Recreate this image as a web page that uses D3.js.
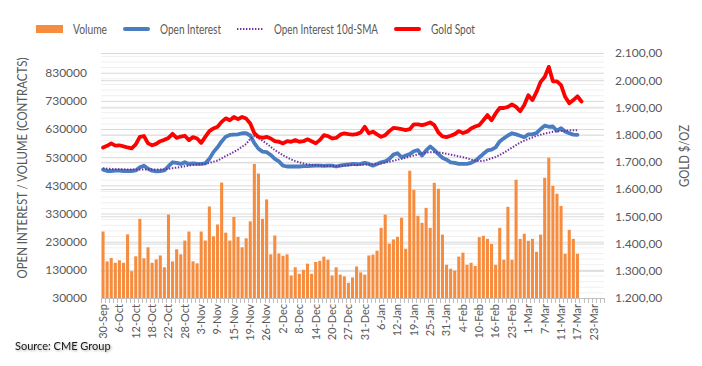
<!DOCTYPE html>
<html><head><meta charset="utf-8">
<script src="https://cdn.jsdelivr.net/npm/d3@7/dist/d3.min.js"></script>
<style>
html,body{margin:0;padding:0;background:#fff;}
svg{display:block;font-family:Lato,"Open Sans",sans-serif;}
</style></head>
<body><svg id="chart" width="702" height="366"></svg>
<script>
// ---- DATA ----
const categories = [
"30-Sep","1-Oct","4-Oct","5-Oct","6-Oct","7-Oct","8-Oct","11-Oct","12-Oct","13-Oct","14-Oct","15-Oct",
"18-Oct","19-Oct","20-Oct","21-Oct","22-Oct","25-Oct","26-Oct","27-Oct","28-Oct","29-Oct",
"1-Nov","2-Nov","3-Nov","4-Nov","5-Nov","8-Nov","9-Nov","10-Nov","11-Nov","12-Nov","15-Nov","16-Nov","17-Nov","18-Nov","19-Nov",
"22-Nov","23-Nov","24-Nov","26-Nov","29-Nov","30-Nov",
"1-Dec","2-Dec","3-Dec","6-Dec","7-Dec","8-Dec","9-Dec","10-Dec","13-Dec","14-Dec","15-Dec","16-Dec","17-Dec",
"20-Dec","21-Dec","22-Dec","23-Dec","27-Dec","28-Dec","29-Dec","30-Dec","31-Dec",
"3-Jan","4-Jan","5-Jan","6-Jan","7-Jan","10-Jan","11-Jan","12-Jan","13-Jan","14-Jan","18-Jan","19-Jan","20-Jan","21-Jan",
"24-Jan","25-Jan","26-Jan","27-Jan","28-Jan","31-Jan",
"1-Feb","2-Feb","3-Feb","4-Feb","7-Feb","8-Feb","9-Feb","10-Feb","11-Feb","14-Feb","15-Feb","16-Feb","17-Feb","18-Feb",
"22-Feb","23-Feb","24-Feb","25-Feb","28-Feb",
"1-Mar","2-Mar","3-Mar","4-Mar","7-Mar","8-Mar","9-Mar","10-Mar","11-Mar","14-Mar","15-Mar","16-Mar","17-Mar","18-Mar",
"21-Mar","22-Mar","23-Mar","24-Mar","25-Mar"
];
const tickLabels = ["30-Sep","6-Oct","12-Oct","18-Oct","22-Oct","28-Oct","3-Nov","9-Nov","15-Nov","19-Nov","26-Nov",
"2-Dec","8-Dec","14-Dec","20-Dec","27-Dec","31-Dec","6-Jan","12-Jan","19-Jan","25-Jan","31-Jan","4-Feb","10-Feb",
"16-Feb","23-Feb","1-Mar","7-Mar","11-Mar","17-Mar","23-Mar"];

const volume = [266000,160000,172000,155000,164000,155000,256000,125000,178000,311000,171000,210000,155000,167000,181000,139000,
326000,160000,203000,185000,234000,266000,160000,153000,266000,234000,355000,249000,291000,440000,262000,234000,318000,247000,
210000,242000,302000,506000,472000,311000,380000,185000,252000,188000,180000,185000,110000,139000,116000,130000,152000,116000,
158000,162000,177000,166000,110000,139000,113000,107000,84000,103000,142000,121000,113000,181000,184000,198000,279000,326000,
223000,238000,247000,315000,205000,482000,414000,322000,297000,350000,279000,439000,418000,255000,148000,134000,127000,177000,
191000,148000,155000,144000,246000,251000,240000,222000,148000,279000,166000,354000,166000,450000,240000,258000,233000,240000,
194000,255000,457000,528000,428000,400000,357000,187000,272000,240000,187000];

const openInterest = [486000,481000,481000,482000,482000,481000,481000,481000,483000,494000,500000,489000,482000,480000,481000,483000,
498000,512000,510000,506000,512000,506000,508000,506000,506000,508000,524000,548000,565000,586000,603000,609000,610000,611000,
615000,615000,607000,580000,560000,550000,548000,538000,524000,515000,500000,497000,497000,497000,497000,498000,498000,499000,
500000,500000,499000,500000,500000,497000,500000,503000,504000,506000,505000,506000,510000,506000,500000,506000,512000,515000,
524000,539000,544000,530000,536000,541000,551000,555000,536000,554000,568000,556000,541000,528000,521000,512000,510000,506000,
506000,506000,510000,517000,529000,542000,554000,557000,565000,586000,597000,607000,615000,611000,606000,601000,611000,611000,
616000,630000,642000,638000,639000,624000,633000,621000,615000,610000,609000];

const openInterestSMA = [491000,489000,488000,487000,487000,487000,486000,486000,486000,486000,486000,487000,487000,486000,486000,487000,
489000,491000,493000,495000,498000,500000,502000,504000,505000,507000,510000,514000,518000,526000,534000,541000,549000,557000,
567000,577000,595000,605000,598000,588000,578000,567000,555000,546000,537000,529000,522000,516000,512000,508000,505000,503000,
501000,500000,499000,499000,499000,499000,499000,500000,501000,502000,502000,503000,504000,504000,505000,506000,508000,511000,
514000,517000,521000,524000,528000,532000,536000,540000,543000,546000,548000,548000,547000,545000,542000,539000,536000,533000,
530000,526000,522000,518000,516000,517000,521000,526000,531000,538000,546000,555000,564000,573000,582000,589000,595000,600000,
606000,610000,614000,617000,620000,622000,623000,624000,625000,626000,626000];

const goldSpot = [1753,1759,1768,1760,1761,1757,1753,1750,1764,1792,1795,1768,1761,1766,1776,1781,1788,1803,1788,1793,1796,1780,
1791,1786,1770,1792,1813,1823,1829,1847,1860,1853,1865,1857,1865,1859,1841,1805,1792,1788,1792,1786,1776,1774,1768,1776,1774,
1780,1774,1776,1783,1776,1768,1780,1798,1795,1786,1788,1800,1805,1802,1800,1802,1808,1829,1805,1811,1801,1792,1798,1813,1825,
1823,1820,1817,1820,1838,1838,1835,1839,1845,1835,1808,1794,1791,1796,1802,1813,1806,1811,1823,1830,1835,1853,1872,1853,1878,
1898,1898,1902,1911,1902,1886,1909,1945,1927,1957,1994,2012,2049,1996,1996,1982,1939,1915,1927,1941,1922];

const leftTicks = [30000,130000,230000,330000,430000,530000,630000,730000,830000];
const rightTicks = [1200,1300,1400,1500,1600,1700,1800,1900,2000,2100];
const seriesNames = ["Volume","Open Interest","Open Interest 10d-SMA","Gold Spot"];
const colors = {volume:"#F68C3E", oi:"#4A7CC0", sma:"#7030A0", gold:"#FF0000"};

// ---- CHART ----
const svg = d3.select("#chart");
const L = 101, R = 604, T = 53, B = 298;
const x = d3.scaleBand().domain(categories).range([L, R]).paddingInner(0.25).paddingOuter(0.125);
const yL = d3.scaleLinear().domain([30000, 900000]).range([B, T]);
const yR = d3.scaleLinear().domain([1200, 2100]).range([B, T]);
const cx = i => x(categories[i]) + x.bandwidth() / 2;
const textCol = "#595959";

// minor gridlines (left axis, 20000 steps)
const minor = d3.range(30000, 900001, 20000).filter(v => !leftTicks.includes(v));
svg.append("g").selectAll("line").data(minor).join("line")
  .attr("x1", L).attr("x2", R).attr("y1", d => yL(d) + 0.5).attr("y2", d => yL(d) + 0.5)
  .attr("stroke", "#f0f0f0").attr("stroke-width", 1);
// major gridlines both axes
svg.append("g").call(d3.axisLeft(yR).tickValues(rightTicks).tickSize(-(R - L)).tickFormat(""))
  .attr("transform", `translate(${L},0)`)
  .call(g => g.select(".domain").remove())
  .call(g => g.selectAll("line").attr("stroke", "#d9d9d9"));
svg.append("g").call(d3.axisLeft(yL).tickValues(leftTicks).tickSize(-(R - L)).tickFormat(""))
  .attr("transform", `translate(${L},0)`)
  .call(g => g.select(".domain").remove())
  .call(g => g.selectAll("line").attr("stroke", "#d9d9d9"));

// bars
svg.append("g").selectAll("rect").data(volume).join("rect")
  .attr("x", (d, i) => x(categories[i])).attr("width", x.bandwidth())
  .attr("y", d => yL(d)).attr("height", d => B - yL(d))
  .attr("fill", colors.volume);

// x axis line + ticks
svg.append("line").attr("x1", L).attr("x2", R).attr("y1", B + 0.5).attr("y2", B + 0.5).attr("stroke", "#bfbfbf");
const bounds = categories.map(c => x(c) - (x.step() - x.bandwidth()) / 2).concat([R]);
svg.append("g").selectAll("line").data(bounds).join("line")
  .attr("x1", d => Math.round(d) + 0.5).attr("x2", d => Math.round(d) + 0.5)
  .attr("y1", B).attr("y2", B + 5).attr("stroke", "#bfbfbf");

// x labels
const xa = svg.append("g").attr("transform", `translate(0,${B + 4})`)
  .call(d3.axisBottom(x).tickValues(tickLabels).tickSize(0));
xa.select(".domain").remove();
xa.selectAll("text").attr("transform", "rotate(-90)").attr("text-anchor", "end")
  .attr("x", -2).attr("y", 0).attr("dy", "0.35em")
  .attr("fill", textCol).style("font-size", "11px").style("font-family", "Lato");

// left axis labels
const la = svg.append("g").attr("transform", `translate(${L - 11},0)`)
  .call(d3.axisLeft(yL).tickValues(leftTicks).tickSize(0).tickFormat(d3.format("d")));
la.select(".domain").remove();
la.selectAll("text").attr("fill", textCol).style("font-size", "12px").style("font-family", "Lato");

// right axis labels
const loc = d3.formatLocale({decimal: ",", thousands: ".", grouping: [3], currency: ["", ""]});
const ra = svg.append("g").attr("transform", `translate(${R + 11},0)`)
  .call(d3.axisRight(yR).tickValues(rightTicks).tickSize(0).tickFormat(loc.format(",.2f")));
ra.select(".domain").remove();
ra.selectAll("text").attr("fill", textCol).attr("x", 0).style("font-size", "12px").style("font-family", "Lato");

// lines
const lineL = d3.line().x((d, i) => cx(i)).y(d => yL(d));
const lineR = d3.line().x((d, i) => cx(i)).y(d => yR(d));
svg.append("path").datum(openInterest).attr("d", lineL).attr("fill", "none")
  .attr("stroke", colors.oi).attr("stroke-width", 3.8).attr("stroke-linejoin", "round").attr("stroke-linecap", "round");
svg.append("path").datum(openInterestSMA).attr("d", lineL).attr("fill", "none")
  .attr("stroke", colors.sma).attr("stroke-width", 2).attr("stroke-dasharray", "1.4,1.6");
svg.append("path").datum(goldSpot).attr("d", lineR).attr("fill", "none")
  .attr("stroke", colors.gold).attr("stroke-width", 3.8).attr("stroke-linejoin", "round").attr("stroke-linecap", "round");

// axis titles
svg.append("text").attr("transform", "translate(27,168) rotate(-90)").attr("text-anchor", "middle")
  .attr("fill", textCol).style("font-size", "12.5px")
  .attr("textLength", 221).attr("lengthAdjust", "spacingAndGlyphs")
  .text("OPEN INTEREST / VOLUME (CONTRACTS)");
svg.append("text").attr("transform", "translate(689,156) rotate(-90)").attr("text-anchor", "middle")
  .attr("fill", textCol).style("font-size", "12.5px")
  .attr("textLength", 62).attr("lengthAdjust", "spacingAndGlyphs")
  .text("GOLD $/OZ");

// legend
const lg = svg.append("g");
const legendItems = [
  {name: seriesNames[0], sx: 36, tx: 73, w: 34, type: "rect", color: colors.volume},
  {name: seriesNames[1], sx: 123, tx: 160, w: 61, type: "line", color: colors.oi},
  {name: seriesNames[2], sx: 237, tx: 274, w: 104, type: "dot", color: colors.sma},
  {name: seriesNames[3], sx: 394, tx: 431, w: 44, type: "line", color: colors.gold}
];
legendItems.forEach(it => {
  if (it.type === "rect") lg.append("rect").attr("x", it.sx).attr("y", 25).attr("width", 27).attr("height", 8).attr("fill", it.color);
  else if (it.type === "line") lg.append("line").attr("x1", it.sx + 2).attr("x2", it.sx + 25).attr("y1", 29).attr("y2", 29)
    .attr("stroke", it.color).attr("stroke-width", 4).attr("stroke-linecap", "round");
  else lg.append("line").attr("x1", it.sx).attr("x2", it.sx + 27).attr("y1", 29).attr("y2", 29)
    .attr("stroke", it.color).attr("stroke-width", 2).attr("stroke-dasharray", "1.4,1.6");
  lg.append("text").attr("x", it.tx).attr("y", 29).attr("dy", "0.35em").attr("fill", textCol)
    .style("font-size", "13px").attr("textLength", it.w).attr("lengthAdjust", "spacingAndGlyphs").text(it.name);
});

// source
const defs = svg.append("defs");
const f = defs.append("filter").attr("id", "sh").attr("x", "-10%").attr("y", "-50%").attr("width", "130%").attr("height", "200%");
f.append("feDropShadow").attr("dx", 1).attr("dy", 1).attr("stdDeviation", 1).attr("flood-color", "#000").attr("flood-opacity", 0.35);
svg.append("text").attr("x", 15).attr("y", 350).attr("fill", "#1a1a1a").attr("filter", "url(#sh)")
  .style("font-size", "11px").text("Source: CME Group");
</script>
</body></html>
